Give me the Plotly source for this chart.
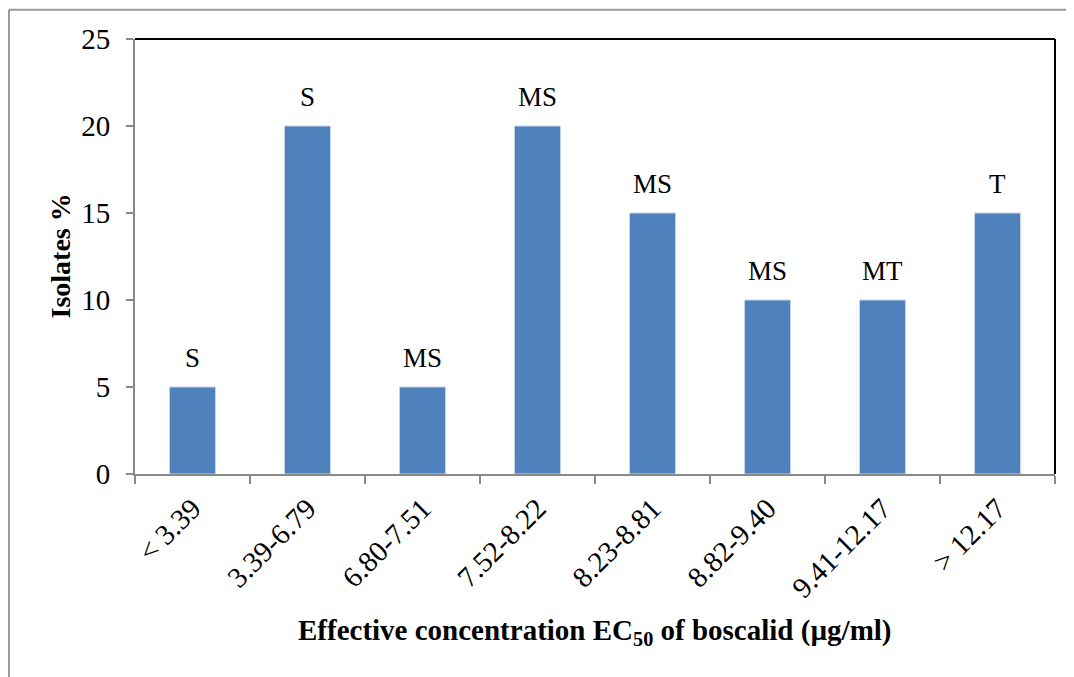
import plotly.graph_objects as go

categories = ["< 3.39", "3.39-6.79", "6.80-7.51", "7.52-8.22", "8.23-8.81", "8.82-9.40", "9.41-12.17", "> 12.17"]
isolates_pct = [5, 20, 5, 20, 15, 10, 10, 15]
class_labels = ["S", "S", "MS", "MS", "MS", "MS", "MT", "T"]
y_ticks = [0, 5, 10, 15, 20, 25]

FONT = "Liberation Serif, Times New Roman, serif"
AXIS_GRAY = "#898989"

fig = go.Figure()
fig.add_trace(go.Bar(
    x=categories, y=isolates_pct,
    marker=dict(color="#4F81BD", line=dict(color="#c6d4ea", width=1)),
    hoverinfo="skip",
))

annotations = []
for c, v, t in zip(categories, isolates_pct, class_labels):
    annotations.append(dict(x=c, y=v, xref="x", yref="y", text=t, showarrow=False,
                            yanchor="bottom", yshift=12,
                            font=dict(family=FONT, size=27, color="black")))
annotations.append(dict(xref="paper", yref="paper", x=0.5, y=-0.363,
                        text="<b>Effective concentration EC<sub>50</sub> of boscalid (µg/ml)</b>",
                        showarrow=False, xanchor="center", yanchor="middle",
                        font=dict(family=FONT, size=29, color="black")))
annotations.append(dict(xref="paper", yref="paper", x=-0.0815, y=0.5,
                        text="<b>Isolates %</b>", textangle=-90,
                        showarrow=False, xanchor="center", yanchor="middle",
                        font=dict(family=FONT, size=28, color="black")))

shapes = [
    dict(type="line", xref="paper", yref="paper", x0=0, x1=1, y0=1, y1=1,
         line=dict(color="black", width=2)),
    dict(type="line", xref="paper", yref="paper", x0=1, x1=1, y0=0, y1=1,
         line=dict(color="black", width=2)),
    dict(type="line", xref="paper", yref="paper", x0=-0.137, x1=1.1, y0=1.067, y1=1.067,
         line=dict(color="#9a9a9a", width=2)),
    dict(type="line", xref="paper", yref="paper", x0=-0.137, x1=-0.137, y0=-0.6, y1=1.067,
         line=dict(color="#9a9a9a", width=2)),
]

fig.update_layout(
    width=1074, height=677,
    margin=dict(l=127, r=27, t=31, b=211),
    paper_bgcolor="white", plot_bgcolor="white",
    bargap=0.6,
    showlegend=False,
    annotations=annotations,
    shapes=shapes,
    font=dict(family=FONT, color="black"),
)
fig.update_xaxes(
    type="category",
    tickangle=-45,
    tickfont=dict(family=FONT, size=29, color="black"),
    showline=True, linecolor=AXIS_GRAY, linewidth=2,
    ticks="outside", tickson="boundaries", ticklen=8, tickcolor=AXIS_GRAY, tickwidth=2,
    ticklabelstandoff=4,
    showgrid=False, zeroline=False,
)
fig.update_yaxes(
    range=[0, 25], tickvals=y_ticks,
    tickfont=dict(family=FONT, size=29, color="black"),
    showline=True, linecolor=AXIS_GRAY, linewidth=2,
    ticks="outside", ticklen=7, tickcolor=AXIS_GRAY, tickwidth=2,
    ticklabelstandoff=10,
    showgrid=False, zeroline=False,
)

fig.write_html("out.html")
